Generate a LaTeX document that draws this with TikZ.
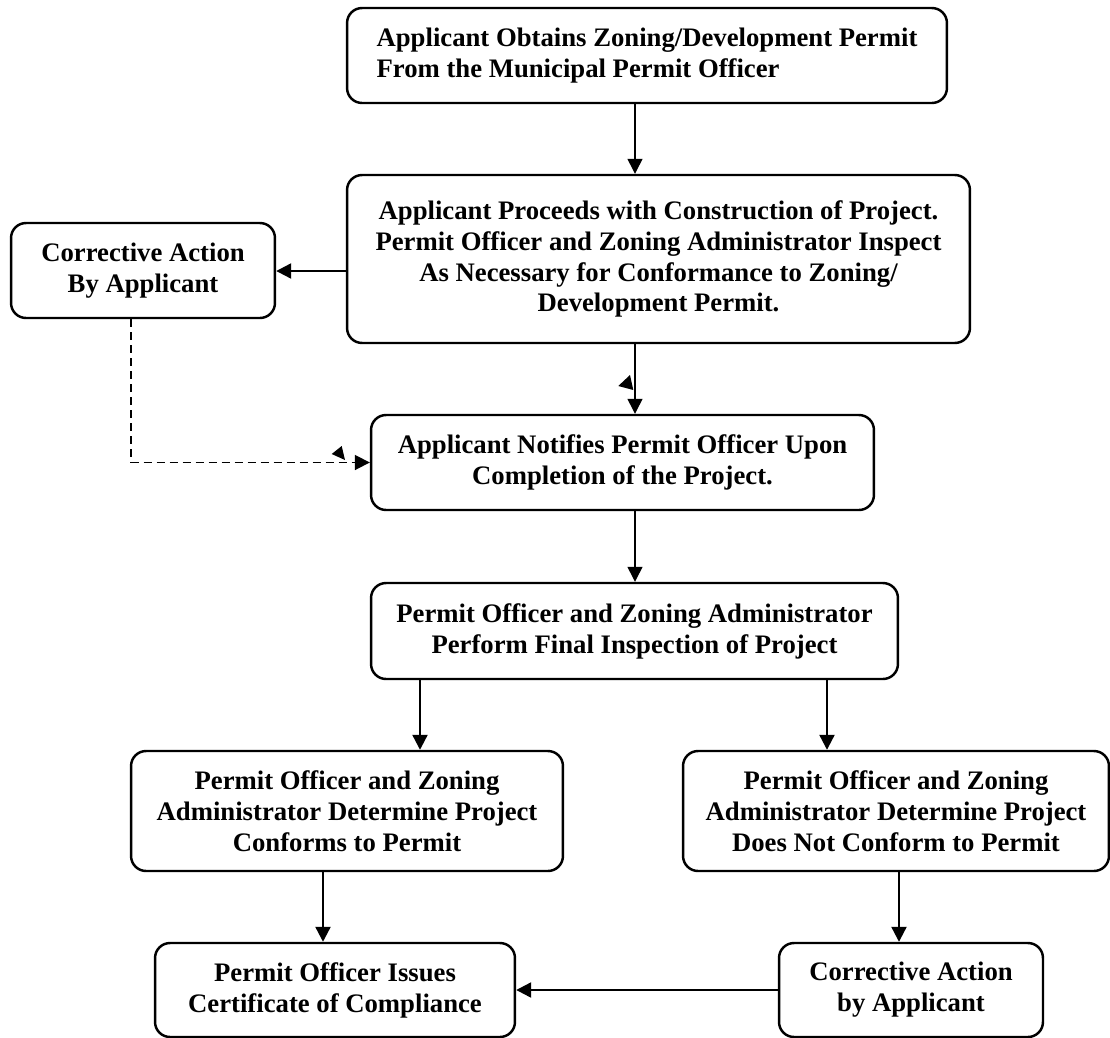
\documentclass[tikz,border=0pt]{standalone}
\usepackage{fontspec}
\setmainfont{Liberation Serif}
\usetikzlibrary{arrows.meta}

\tikzset{
  stepbox/.style={draw=black,line width=1.4pt,rounded corners=0.3cm,
    align=center,font=\fontsize{15.2}{17.6}\selectfont\bfseries,inner sep=2pt},
  thinflow/.style={line width=0.8pt,-{Triangle[length=0.3cm,width=0.3cm]}},
  thickflow/.style={line width=1.3pt,-{Triangle[length=0.3cm,width=0.3cm]}},
  dashflow/.style={line width=1pt,dash pattern=on 0.16cm off 0.1cm,
    -{Triangle[length=0.3cm,width=0.3cm]}},
  strayhead/.style={fill=black}
}

\begin{document}
\begin{tikzpicture}[x=0.02cm,y=-0.02cm]
\useasboundingbox (0,0) rectangle (1110,1038);

\node[stepbox,align=left,minimum width=12cm,minimum height=1.9cm] (obtain) at (647,55.5)
  {Applicant Obtains Zoning/Development Permit\\From the Municipal Permit Officer};
\node[stepbox,minimum width=12.46cm,minimum height=3.36cm] (proceed) at (658.5,259)
  {Applicant Proceeds with Construction of Project.\\Permit Officer and Zoning Administrator Inspect\\As Necessary for Conformance to Zoning/\\Development Permit.};
\node[stepbox,minimum width=5.28cm,minimum height=1.9cm] (correctA) at (143,270.5)
  {Corrective Action\\By Applicant};
\node[stepbox,minimum width=10.06cm,minimum height=1.9cm] (notify) at (622.5,462.5)
  {Applicant Notifies Permit Officer Upon\\Completion of the Project.};
\node[stepbox,minimum width=10.54cm,minimum height=1.92cm] (inspect) at (634.5,631)
  {Permit Officer and Zoning Administrator\\Perform Final Inspection of Project};
\node[stepbox,minimum width=8.64cm,minimum height=2.4cm] (conform) at (347,811)
  {Permit Officer and Zoning\\Administrator Determine Project\\Conforms to Permit};
\node[stepbox,minimum width=8.52cm,minimum height=2.4cm] (noconform) at (896,811)
  {Permit Officer and Zoning\\Administrator Determine Project\\Does Not Conform to Permit};
\node[stepbox,minimum width=7.2cm,minimum height=1.88cm] (certify) at (335,990)
  {Permit Officer Issues\\Certificate of Compliance};
\node[stepbox,minimum width=5.28cm,minimum height=1.88cm] (correctB) at (911,990)
  {Corrective Action\\by Applicant};

% connectors
\draw[thinflow] (obtain.south -| 635,0) -- (proceed.north -| 635,0);
\draw[thickflow] (proceed.west |- 0,271) -- (correctA.east |- 0,271);
\draw[thinflow] (proceed.south -| 635,0) -- (notify.north -| 635,0);
\draw[dashflow] (correctA.south -| 131,0) |- (notify.west);
\draw[thinflow] (notify.south -| 635,0) -- (inspect.north -| 635,0);
\draw[thickflow] (inspect.south -| 420,0) -- (conform.north -| 420,0);
\draw[thickflow] (inspect.south -| 827,0) -- (noconform.north -| 827,0);
\draw[thickflow] (conform.south -| 323,0) -- (certify.north -| 323,0);
\draw[thickflow] (noconform.south -| 899,0) -- (correctB.north -| 899,0);
\draw[thickflow] (correctB.west) -- (certify.east);

% loose arrowheads
\fill[strayhead] (630,375) -- (618.3,386) -- (633.3,390) -- cycle;
\fill[strayhead] (341.7,446) -- (331.7,454) -- (345,460) -- cycle;
\end{tikzpicture}
\end{document}
